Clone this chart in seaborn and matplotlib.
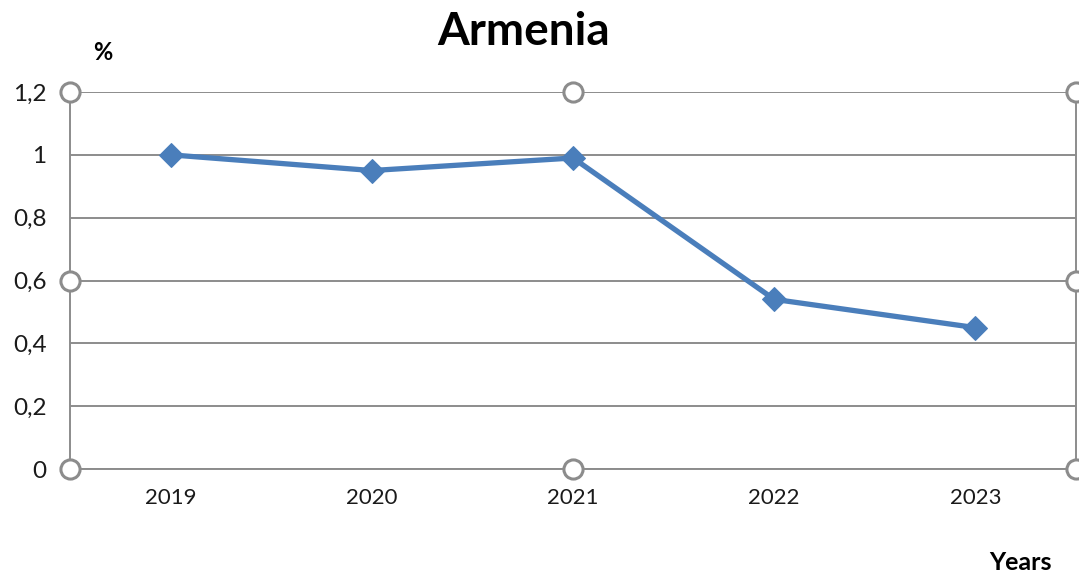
import numpy as np
import pandas as pd
import seaborn as sns
import matplotlib.pyplot as plt
from matplotlib.ticker import FuncFormatter

years = ['2019', '2020', '2021', '2022', '2023']
values = [1.00, 0.95, 0.99, 0.54, 0.45]
y_ticks = [0, 0.2, 0.4, 0.6, 0.8, 1.0, 1.2]

sns.set_style('white')
plt.rcParams['font.family'] = ['Lato', 'DejaVu Sans']

line_color = '#4a7ebb'
grid_color = '#8c8c8c'

df = pd.DataFrame({'pos': np.arange(len(years)), 'value': values})

fig = plt.figure(figsize=(10.79, 5.74), dpi=100)
ax = fig.add_axes([70 / 1079, 105 / 574, 1006 / 1079, 377 / 574])

sns.lineplot(data=df, x='pos', y='value', ax=ax, color=line_color,
             linewidth=3.8, marker='D', markersize=12,
             markeredgecolor=line_color, zorder=3)

ax.set_xlim(-0.5, len(years) - 0.5)
ax.set_ylim(0, 1.2)
ax.set_yticks(y_ticks)
ax.yaxis.set_major_formatter(FuncFormatter(lambda v, p: f'{v:g}'.replace('.', ',')))
ax.set_xticks(range(len(years)))
ax.set_xticklabels(years)
ax.set_xticks(np.arange(0.5, len(years) - 0.5, 1), minor=True)

ax.tick_params(axis='x', which='major', length=0, pad=14, labelsize=16, colors='#1a1a1a')
ax.tick_params(axis='x', which='minor', length=7, width=1.3, color=grid_color, direction='out')
ax.tick_params(axis='y', length=8, width=1.3, color=grid_color, pad=9, labelsize=17.5,
               labelcolor='#1a1a1a')

ax.grid(axis='y', color=grid_color, linewidth=1.4)
for side in ['left', 'bottom', 'right', 'top']:
    ax.spines[side].set_color(grid_color)
    ax.spines[side].set_linewidth(1.4)
ax.spines['top'].set_visible(False)

ax.set_xlabel('')
ax.set_ylabel('')

# selection handles around the plot area
hx = [0, 0.5, 1, 0, 1, 0, 0.5, 1]
hy = [0, 0, 0, 0.5, 0.5, 1, 1, 1]
ax.scatter(hx, hy, transform=ax.transAxes, s=190, facecolor='white',
           edgecolor=grid_color, linewidth=2.2, zorder=5, clip_on=False)

fig.text(524 / 1079, 1 - 32 / 574, 'Armenia', ha='center', va='center',
         fontsize=33, fontweight='bold', color='black')
fig.text(103 / 1079, 1 - 52 / 574, '%', ha='center', va='center',
         fontsize=17, fontweight='bold', color='black')
fig.text(1020 / 1079, 1 - 563 / 574, 'Years', ha='center', va='center',
         fontsize=18, fontweight='bold', color='black')

fig.savefig('out.png', dpi=100)
